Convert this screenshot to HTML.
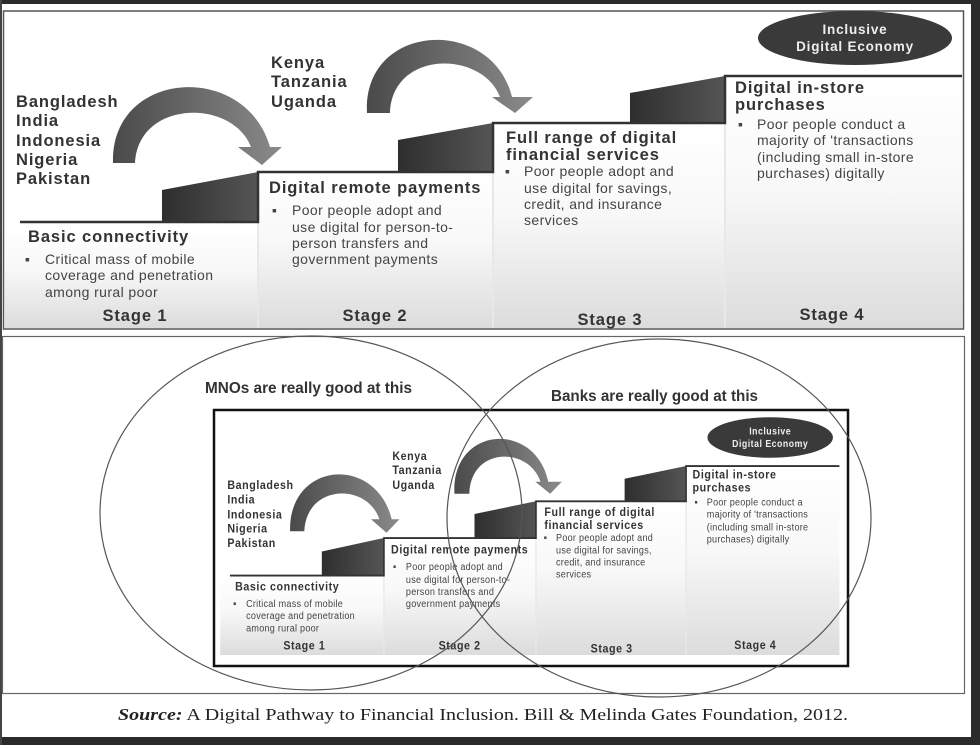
<!DOCTYPE html>
<html><head><meta charset="utf-8"><style>
html,body{margin:0;padding:0;background:#fff;}
svg{display:block;}
.b{font-family:"Liberation Sans",sans-serif;font-weight:bold;fill:#333;}
.r{font-family:"Liberation Sans",sans-serif;fill:#444;}
.t{font-size:16.5px;letter-spacing:0.9px;}
.s{font-size:14px;letter-spacing:0.4px;}
</style></head><body>
<svg width="980" height="749" viewBox="0 0 980 749" xmlns="http://www.w3.org/2000/svg">
<defs>
<linearGradient id="pg" x1="0" y1="0" x2="0" y2="1"><stop offset="0" stop-color="#fff"/><stop offset="0.45" stop-color="#f8f8f8"/><stop offset="1" stop-color="#dcdcdc"/></linearGradient>
<linearGradient id="bk" x1="0" y1="0" x2="1" y2="0"><stop offset="0" stop-color="#2e2e2e"/><stop offset="1" stop-color="#555"/></linearGradient>
<linearGradient id="ar" x1="0" y1="0" x2="1" y2="0"><stop offset="0" stop-color="#4a4a4a"/><stop offset="1" stop-color="#8a8a8a"/></linearGradient>
</defs>
<rect x="0" y="0" width="980" height="749" fill="#fff"/>
<rect x="0" y="0" width="980" height="4" fill="#2b2b2b"/>
<rect x="971" y="0" width="9" height="745" fill="#2b2b2b"/>
<rect x="0" y="737" width="980" height="8" fill="#2b2b2b"/>
<rect x="0" y="0" width="2" height="745" fill="#444"/>
<rect x="3.5" y="11" width="960" height="318" fill="#fff" stroke="#555" stroke-width="1.5"/>
<g>
<rect x="5" y="222" width="253" height="106" fill="url(#pg)"/>
<rect x="258" y="172" width="235" height="156" fill="url(#pg)"/>
<rect x="493" y="123" width="232" height="205" fill="url(#pg)"/>
<rect x="725" y="76" width="237" height="252" fill="url(#pg)"/>
<line x1="258" y1="172" x2="258" y2="328" stroke="#e8e8e8" stroke-width="2"/>
<line x1="493" y1="123" x2="493" y2="328" stroke="#e8e8e8" stroke-width="2"/>
<line x1="725" y1="76" x2="725" y2="328" stroke="#e8e8e8" stroke-width="2"/>
<polygon points="162,190 258,172 258,222 162,222" fill="url(#bk)"/>
<polygon points="398,140 493,123 493,172 398,172" fill="url(#bk)"/>
<polygon points="630,93 725,76 725,123 630,123" fill="url(#bk)"/>
<polyline points="20,222 258,222 258,172 493,172 493,123 725,123 725,76 962,76" fill="none" stroke="#333" stroke-width="2.5"/>
<path d="M113,163 C110,70 245,60 270,147 L282,147 L262,165 L238,147 L251,147 C232,98 138,100 135,163 Z" fill="url(#ar)"/>
<path d="M367,113 C362,22 492,15 512,97 L533,97 L515,113 L492,97 L500,97 C482,50 392,50 390,113 Z" fill="url(#ar)"/>
<ellipse cx="855" cy="38" rx="97" ry="27" fill="#3a3a3a"/>
<text x="855" y="34" text-anchor="middle" class="b" style="fill:#eee;letter-spacing:0.8px" font-size="13.5">Inclusive</text>
<text x="855" y="51" text-anchor="middle" class="b" style="fill:#eee;letter-spacing:0.8px" font-size="13.5">Digital Economy</text>
<g class="b t">
<text x="16" y="107">Bangladesh</text><text x="16" y="126">India</text><text x="16" y="146">Indonesia</text><text x="16" y="165">Nigeria</text><text x="16" y="184">Pakistan</text>
<text x="271" y="68">Kenya</text><text x="271" y="87">Tanzania</text><text x="271" y="107">Uganda</text>
<text x="28" y="242">Basic connectivity</text>
<text x="269" y="193">Digital remote payments</text>
<text x="506" y="143">Full range of digital</text><text x="506" y="160">financial services</text>
<text x="735" y="93">Digital in-store</text><text x="735" y="110">purchases</text>
<text x="135" y="321" text-anchor="middle">Stage 1</text>
<text x="375" y="321" text-anchor="middle">Stage 2</text>
<text x="610" y="325" text-anchor="middle">Stage 3</text>
<text x="832" y="320" text-anchor="middle">Stage 4</text>
</g>
<g class="r s">
<text x="25" y="264">▪</text><text x="45" y="264">Critical mass of mobile</text><text x="45" y="280">coverage and penetration</text><text x="45" y="297">among rural poor</text>
<text x="272" y="215">▪</text><text x="292" y="215">Poor people adopt and</text><text x="292" y="232">use digital  for person-to-</text><text x="292" y="248">person transfers and</text><text x="292" y="264">government payments</text>
<text x="505" y="176">▪</text><text x="524" y="176">Poor people adopt and</text><text x="524" y="193">use digital for savings,</text><text x="524" y="209">credit, and insurance</text><text x="524" y="225">services</text>
<text x="738" y="129">▪</text><text x="757" y="129">Poor people conduct a</text><text x="757" y="145">majority of 'transactions</text><text x="757" y="162">(including small in-store</text><text x="757" y="178">purchases) digitally</text>
</g>
</g>
<rect x="2.5" y="336.5" width="962" height="357" fill="#fff" stroke="#666" stroke-width="1.2"/>
<g transform="translate(217,409) scale(0.647,0.75)">
<rect x="5" y="222" width="253" height="106" fill="url(#pg)"/>
<rect x="258" y="172" width="235" height="156" fill="url(#pg)"/>
<rect x="493" y="123" width="232" height="205" fill="url(#pg)"/>
<rect x="725" y="76" width="237" height="252" fill="url(#pg)"/>
<line x1="258" y1="172" x2="258" y2="328" stroke="#e8e8e8" stroke-width="2"/>
<line x1="493" y1="123" x2="493" y2="328" stroke="#e8e8e8" stroke-width="2"/>
<line x1="725" y1="76" x2="725" y2="328" stroke="#e8e8e8" stroke-width="2"/>
<polygon points="162,190 258,172 258,222 162,222" fill="url(#bk)"/>
<polygon points="398,140 493,123 493,172 398,172" fill="url(#bk)"/>
<polygon points="630,93 725,76 725,123 630,123" fill="url(#bk)"/>
<polyline points="20,222 258,222 258,172 493,172 493,123 725,123 725,76 962,76" fill="none" stroke="#333" stroke-width="2.5"/>
<path d="M113,163 C110,70 245,60 270,147 L282,147 L262,165 L238,147 L251,147 C232,98 138,100 135,163 Z" fill="url(#ar)"/>
<path d="M367,113 C362,22 492,15 512,97 L533,97 L515,113 L492,97 L500,97 C482,50 392,50 390,113 Z" fill="url(#ar)"/>
<ellipse cx="855" cy="38" rx="97" ry="27" fill="#3a3a3a"/>
<text x="855" y="34" text-anchor="middle" class="b" style="fill:#eee;letter-spacing:0.8px" font-size="13.5">Inclusive</text>
<text x="855" y="51" text-anchor="middle" class="b" style="fill:#eee;letter-spacing:0.8px" font-size="13.5">Digital Economy</text>
<g class="b t">
<text x="16" y="107">Bangladesh</text><text x="16" y="126">India</text><text x="16" y="146">Indonesia</text><text x="16" y="165">Nigeria</text><text x="16" y="184">Pakistan</text>
<text x="271" y="68">Kenya</text><text x="271" y="87">Tanzania</text><text x="271" y="107">Uganda</text>
<text x="28" y="242">Basic connectivity</text>
<text x="269" y="193">Digital remote payments</text>
<text x="506" y="143">Full range of digital</text><text x="506" y="160">financial services</text>
<text x="735" y="93">Digital in-store</text><text x="735" y="110">purchases</text>
<text x="135" y="321" text-anchor="middle">Stage 1</text>
<text x="375" y="321" text-anchor="middle">Stage 2</text>
<text x="610" y="325" text-anchor="middle">Stage 3</text>
<text x="832" y="320" text-anchor="middle">Stage 4</text>
</g>
<g class="r s">
<text x="25" y="264">▪</text><text x="45" y="264">Critical mass of mobile</text><text x="45" y="280">coverage and penetration</text><text x="45" y="297">among rural poor</text>
<text x="272" y="215">▪</text><text x="292" y="215">Poor people adopt and</text><text x="292" y="232">use digital  for person-to-</text><text x="292" y="248">person transfers and</text><text x="292" y="264">government payments</text>
<text x="505" y="176">▪</text><text x="524" y="176">Poor people adopt and</text><text x="524" y="193">use digital for savings,</text><text x="524" y="209">credit, and insurance</text><text x="524" y="225">services</text>
<text x="738" y="129">▪</text><text x="757" y="129">Poor people conduct a</text><text x="757" y="145">majority of 'transactions</text><text x="757" y="162">(including small in-store</text><text x="757" y="178">purchases) digitally</text>
</g>
</g>
<rect x="214" y="410" width="634" height="256" fill="none" stroke="#111" stroke-width="2.5"/>
<ellipse cx="311" cy="513" rx="211" ry="177" fill="none" stroke="#555" stroke-width="1.2"/>
<ellipse cx="659" cy="518" rx="212" ry="179" fill="none" stroke="#555" stroke-width="1.2"/>
<text x="205" y="393" class="b" font-size="15.5" textLength="207" lengthAdjust="spacingAndGlyphs">MNOs are really good at this</text>
<text x="551" y="401" class="b" font-size="15.5" textLength="207" lengthAdjust="spacingAndGlyphs">Banks are really good at this</text>
<text x="118" y="720" font-family="Liberation Serif,serif" font-size="17" fill="#222" textLength="730" lengthAdjust="spacingAndGlyphs"><tspan font-weight="bold" font-style="italic">Source:</tspan> A Digital Pathway to Financial Inclusion. Bill &amp; Melinda Gates Foundation, 2012.</text>
</svg>
</body></html>
